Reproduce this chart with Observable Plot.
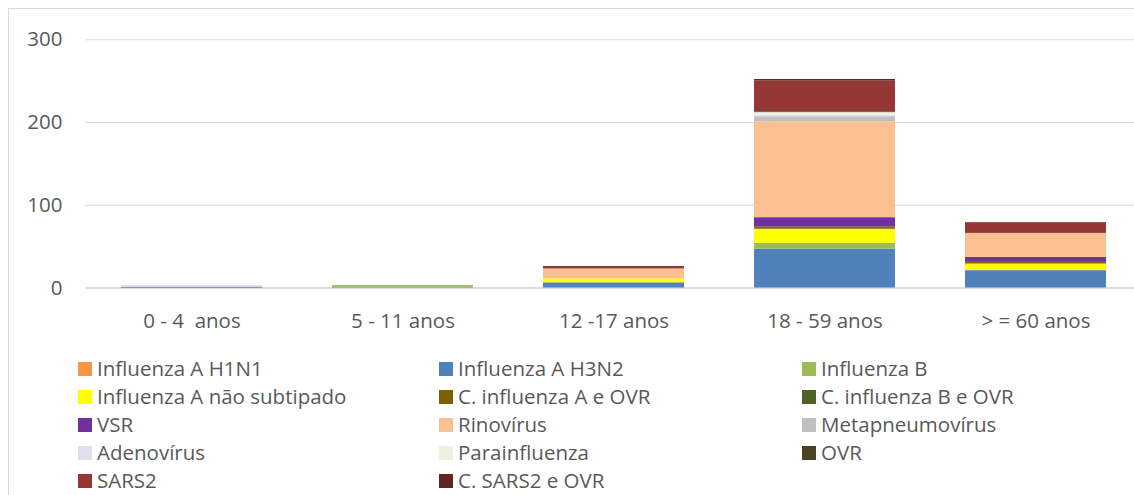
<!DOCTYPE html>
<html>
<head>
<meta charset="utf-8">
<script src="https://cdn.jsdelivr.net/npm/d3@7"></script>
<script src="https://cdn.jsdelivr.net/npm/@observablehq/plot@0.6"></script>
<style>
  html, body { margin: 0; padding: 0; background: #ffffff; }
  body { width: 1134px; height: 495px; overflow: hidden; position: relative; font-family: "Open Sans", sans-serif; }
  #frame { position: absolute; left: 8px; top: 8px; width: 1300px; height: 700px; border: 1px solid #d9d9d9; box-sizing: border-box; }
  #chart { position: absolute; left: 0; top: 0; }
  #legend { position: absolute; left: 0; top: 0; width: 1134px; height: 495px; }
  .item { position: absolute; height: 28px; line-height: 28px; font-size: 20.5px; color: #595959; white-space: nowrap; padding-left: 19px; }
  .sw { position: absolute; left: 0; top: 8px; width: 14px; height: 14px; }
</style>
</head>
<body>
<div id="frame"></div>
<div id="chart"></div>
<div id="legend"></div>
<script>
const categories = ["0 - 4  anos", "5 - 11 anos", "12 -17 anos", "18 - 59 anos", "> = 60 anos"];
const series = [
  "Influenza A H1N1", "Influenza A H3N2", "Influenza B",
  "Influenza A não subtipado", "C. influenza A e OVR", "C. influenza B e OVR",
  "VSR", "Rinovírus", "Metapneumovírus",
  "Adenovírus", "Parainfluenza", "OVR",
  "SARS2", "C. SARS2 e OVR"
];
const colors = [
  "#f79646", "#4f81bd", "#9bbb59",
  "#ffff00", "#7f6000", "#4f6228",
  "#7030a0", "#fac090", "#bfbfbf",
  "#e4dfec", "#ebf1de", "#494429",
  "#953735", "#632523"
];
// values per series, one per age category
const h1n1        = [0, 0, 0, 0, 0];
const h3n2        = [0, 1, 6, 47, 21];
const fluB        = [0, 2, 1, 7, 0];
const naoSubtip   = [0, 0, 4, 17, 8];
const cFluAOvr    = [0, 0, 0, 2, 2];
const cFluBOvr    = [0, 0, 0, 1, 0];
const vsr         = [1, 0, 0, 11, 6];
const rino        = [0, 0, 12, 116, 29];
const metapneumo  = [0, 0, 0, 6, 0];
const adeno       = [2, 0, 0, 2, 0];
const parainf     = [0, 0, 0, 3, 0];
const ovr         = [0, 0, 0, 1, 0];
const sars2       = [0, 0, 3, 37, 13];
const cSars2Ovr   = [0, 0, 0, 2, 0];
const yTicks = [0, 100, 200, 300];

const valuesBySeries = [h1n1, h3n2, fluB, naoSubtip, cFluAOvr, cFluBOvr, vsr, rino, metapneumo, adeno, parainf, ovr, sars2, cSars2Ovr];
const data = [];
series.forEach((s, i) => {
  categories.forEach((c, j) => {
    data.push({series: s, cat: c, value: valuesBySeries[i][j]});
  });
});

const chart = Plot.plot({
  width: 1134,
  height: 340,
  marginLeft: 85,
  marginRight: 0,
  marginTop: 39.3,
  marginBottom: 52.5,
  style: {background: "transparent", fontFamily: "Open Sans", fontSize: "20.5px", color: "#595959", overflow: "visible"},
  x: {domain: categories, range: [84.75, 1142.25], paddingInner: 1/3, paddingOuter: 1/6, align: 0.5},
  y: {domain: [0, 300]},
  color: {domain: series, range: colors},
  marks: [
    Plot.gridY(yTicks.filter(d => d > 0), {stroke: "#d9d9d9", strokeOpacity: 1, strokeWidth: 1}),
    Plot.ruleY([0], {stroke: "#d0d0d0", strokeWidth: 1.5}),
    Plot.barY(data, Plot.stackY({order: null}, {x: "cat", y: "value", fill: "series"})),
    Plot.axisY({ticks: yTicks, tickSize: 0, tickPadding: 23, label: null, fontSize: 20.5}),
    Plot.axisX({tickSize: 0, tickPadding: 25, label: null, fontSize: 20.5})
  ]
});
document.getElementById("chart").appendChild(chart);

const legend = document.getElementById("legend");
const colX = [78, 439, 802];
const rowTop = [354, 382, 410, 438, 466];
series.forEach((s, i) => {
  const item = document.createElement("div");
  item.className = "item";
  item.style.left = colX[i % 3] + "px";
  item.style.top = rowTop[Math.floor(i / 3)] + "px";
  const sw = document.createElement("span");
  sw.className = "sw";
  sw.style.background = colors[i];
  item.appendChild(sw);
  item.appendChild(document.createTextNode(s));
  legend.appendChild(item);
});
</script>
</body>
</html>
